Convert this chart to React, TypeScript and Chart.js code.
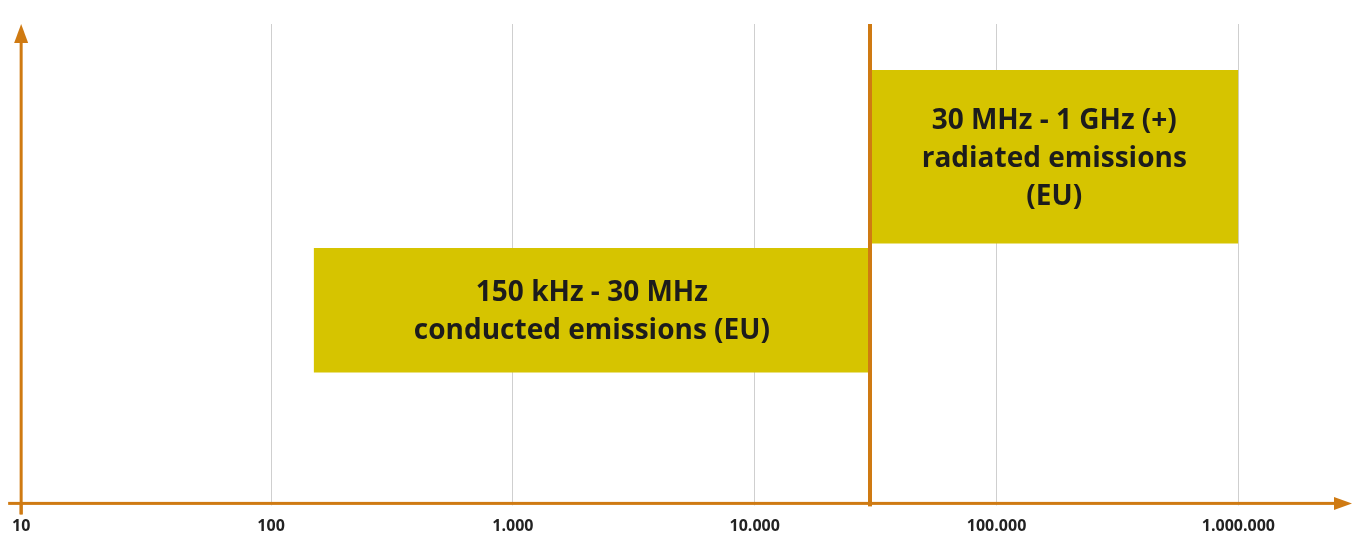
import React, { useEffect, useRef } from "react";
import { Chart, registerables } from "chart.js";

Chart.register(...registerables);

// Frequency in kHz (log axis)
const axisMinKHz = 9.26;
const axisMaxKHz = 2950000;
const tickValues = [9.26, 100, 1000, 10000, 100000, 1000000];
const tickLabels = ["10", "100", "1.000", "10.000", "100.000", "1.000.000"];

const bandStartKHz = [150, 30000];
const bandEndKHz = [30000, 1000000];
const bandLow = [27.3, 54.2];
const bandHigh = [53.3, 90.4];
const bandText = [
  ["150 kHz - 30 MHz", "conducted emissions (EU)"],
  ["30 MHz - 1 GHz (+)", "radiated emissions", "(EU)"],
];
const boundaryKHz = 30000;

const ORANGE = "#CF7A12";
const YELLOW = "#D6C400";
const TEXT = "#1c1c1c";

const overlayPlugin = {
  id: "overlay",
  afterDatasetsDraw(chart: any) {
    const { ctx, chartArea, scales } = chart;
    const xs = scales.x;
    const ys = scales.y;
    ctx.save();
    // band texts
    ctx.fillStyle = TEXT;
    ctx.font = "bold 28px 'Open Sans'";
    ctx.textAlign = "center";
    ctx.textBaseline = "middle";
    bandText.forEach((lines, i) => {
      const x0 = xs.getPixelForValue(bandStartKHz[i]);
      const x1 = xs.getPixelForValue(bandEndKHz[i]);
      const y0 = ys.getPixelForValue(bandHigh[i]);
      const y1 = ys.getPixelForValue(bandLow[i]);
      const cx = (x0 + x1) / 2;
      const cy = (y0 + y1) / 2 + 2;
      const lh = 38;
      lines.forEach((t, j) => {
        ctx.fillText(t, cx, cy + (j - (lines.length - 1) / 2) * lh);
      });
    });
    // boundary line
    const bx = xs.getPixelForValue(boundaryKHz);
    ctx.fillStyle = ORANGE;
    ctx.fillRect(Math.round(bx) - 2, chartArea.top, 4, chartArea.bottom - chartArea.top + 3);
    // y axis
    const ax = chartArea.left;
    const ay = chartArea.bottom;
    ctx.fillRect(ax - 1.5, chartArea.top + 10, 3, ay - chartArea.top + 1);
    ctx.fillRect(ax - 1.5, ay, 3, 11);
    ctx.beginPath();
    ctx.moveTo(ax, chartArea.top);
    ctx.lineTo(ax - 7, chartArea.top + 19);
    ctx.lineTo(ax + 7, chartArea.top + 19);
    ctx.closePath();
    ctx.fill();
    // x axis
    ctx.fillRect(ax - 13, ay - 1.5, chartArea.right - ax, 3);
    ctx.beginPath();
    ctx.moveTo(chartArea.right, ay);
    ctx.lineTo(chartArea.right - 18, ay - 6.5);
    ctx.lineTo(chartArea.right - 18, ay + 6.5);
    ctx.closePath();
    ctx.fill();
    ctx.restore();
  },
};

export default function App() {
  const ref = useRef<HTMLCanvasElement | null>(null);
  useEffect(() => {
    document.body.style.margin = "0";
    const datasets: any[] = [];
    bandStartKHz.forEach((s, i) => {
      datasets.push({
        data: [
          { x: s, y: bandHigh[i] },
          { x: bandEndKHz[i], y: bandHigh[i] },
        ],
        showLine: true,
        borderWidth: 0,
        pointRadius: 0,
        backgroundColor: YELLOW,
        fill: "+1",
      });
      datasets.push({
        data: [
          { x: s, y: bandLow[i] },
          { x: bandEndKHz[i], y: bandLow[i] },
        ],
        showLine: true,
        borderWidth: 0,
        pointRadius: 0,
        fill: false,
      });
    });
    const chart = new Chart(ref.current as HTMLCanvasElement, {
      type: "scatter",
      data: { datasets },
      options: {
        responsive: false,
        animation: false,
        layout: { padding: { left: 20, right: 18, top: 24, bottom: 0 } },
        plugins: {
          legend: { display: false },
          tooltip: { enabled: false },
        },
        scales: {
          x: {
            type: "logarithmic",
            min: axisMinKHz,
            max: axisMaxKHz,
            afterBuildTicks: (scale: any) => {
              scale.ticks = tickValues.map((v) => ({ value: v }));
            },
            border: { display: false },
            grid: {
              drawTicks: true,
              tickLength: 2,
              color: (c: any) => (c.index === 0 ? "rgba(0,0,0,0)" : "#cfcfcf"),
              lineWidth: 1,
            },
            ticks: {
              padding: 12,
              autoSkip: false,
              maxRotation: 0,
              color: "#222",
              font: { family: "'Open Sans'", size: 16, weight: "bold", lineHeight: 1.1 },
              callback: (_v: any, i: number) => tickLabels[i],
            },
          },
          y: {
            type: "linear",
            display: false,
            min: 0,
            max: 100,
          },
        },
      },
      plugins: [overlayPlugin],
    } as any);
    return () => chart.destroy();
  }, []);
  return <canvas ref={ref} width={1370} height={547} style={{ display: "block" }} />;
}
